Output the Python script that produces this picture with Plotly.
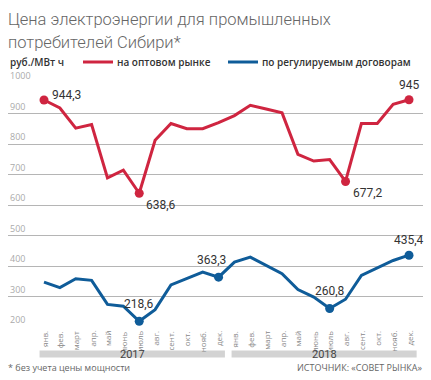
import plotly.graph_objects as go

months = ["янв.", "фев.", "март", "апр.", "май", "июнь", "июль", "авг.", "сент.", "окт.", "нояб.", "дек."]
month_labels = months + months
years = ["2017", "2018"]
wholesale = [944.3, 918, 852, 864, 689, 714, 638.6, 812, 867, 850, 850, 870,
             893, 927, 915, 902, 766, 744, 749, 677.2, 867, 867, 930, 945]
regulated = [347, 329, 358, 353, 274, 268, 218.6, 257, 338, 360, 380, 363.3,
             413, 429, 402, 375, 323, 298, 260.8, 291, 369, 393, 418, 435.4]
y_ticks = [200, 300, 400, 500, 600, 700, 800, 900, 1000]
highlight_red = [0, 6, 19, 23]
highlight_blue = [6, 11, 18, 23]
title_lines = ["Цена электроэнергии для промышленных", "потребителей Сибири*"]

RED = "#cf2540"
BLUE = "#0f5c99"
W, H = 431, 380
L, R, T, B = 8, 8, 83, 53
PH = H - T - B


def py(p):
    return (H - B - p) / PH


def pxp(p):
    return (p - L) / (W - L - R)


def fmt(v):
    s = f"{v:.1f}".replace(".", ",")
    return s[:-2] if s.endswith(",0") else s


x = list(range(len(month_labels)))
fig = go.Figure()
fig.add_trace(go.Scatter(x=x, y=wholesale, mode="lines", line=dict(color=RED, width=3),
                         hoverinfo="skip", showlegend=False))
fig.add_trace(go.Scatter(x=x, y=regulated, mode="lines", line=dict(color=BLUE, width=3),
                         hoverinfo="skip", showlegend=False))
fig.add_trace(go.Scatter(x=highlight_red, y=[wholesale[i] for i in highlight_red], mode="markers",
                         marker=dict(color=RED, size=9), hoverinfo="skip", showlegend=False))
fig.add_trace(go.Scatter(x=highlight_blue, y=[regulated[i] for i in highlight_blue], mode="markers",
                         marker=dict(color=BLUE, size=9), hoverinfo="skip", showlegend=False))

ann = []
for v in y_ticks:
    ann.append(dict(x=0, xref="paper", y=v, yref="y", text=str(v), showarrow=False,
                    xanchor="left", yanchor="bottom", yshift=-1,
                    font=dict(family="Open Sans", size=9, color="#aaaaaa")))

lab_font = dict(family="Roboto", size=12, color="#333333")
offsets_red = {0: (6, 5, "left", "middle"), 6: (5, -3, "left", "top"),
               19: (5, -3, "left", "top"), 23: (0, 6, "center", "bottom")}
for i, (dx, dy, xa, ya) in offsets_red.items():
    ann.append(dict(x=i, y=wholesale[i], text=fmt(wholesale[i]), showarrow=False,
                    xanchor=xa, yanchor=ya, xshift=dx, yshift=dy, font=lab_font,
                    bgcolor="white" if i == 23 else None))
offsets_blue = {6: (0, 8, "center", "bottom"), 11: (-7, 8, "center", "bottom"),
                18: (0, 8, "center", "bottom"), 23: (0, 6, "center", "bottom")}
for i, (dx, dy, xa, ya) in offsets_blue.items():
    ann.append(dict(x=i, y=regulated[i], text=fmt(regulated[i]), showarrow=False,
                    xanchor=xa, yanchor=ya, xshift=dx, yshift=dy, font=lab_font))

for i, m in enumerate(month_labels):
    ann.append(dict(x=i, xref="x", y=py(329), yref="paper", text=m, textangle=-90,
                    showarrow=False, xanchor="center", yanchor="top",
                    font=dict(family="Open Sans", size=8, color="#888888")))

shapes = []
year_spans = [(-0.28, 11.4), (11.82, 23.48)]
for (a, b), yr in zip(year_spans, years):
    shapes.append(dict(type="rect", xref="x", yref="paper", x0=a, x1=b, y0=py(357.5), y1=py(350.5),
                       fillcolor="#d3d3d3", line=dict(width=0), layer="below"))
    ann.append(dict(x=(a + b) / 2, xref="x", y=py(354.5), yref="paper", text=yr, showarrow=False,
                    xanchor="center", yanchor="middle",
                    font=dict(family="Roboto", size=11, color="#444444")))

for line, yc in zip(title_lines, [19.5, 42.5]):
    ann.append(dict(x=pxp(6), xref="paper", y=py(yc), yref="paper", text=line,
                    showarrow=False, xanchor="left", yanchor="middle", align="left",
                    font=dict(family="Roboto", size=16.5, color="#666666", weight=300)))
ann.append(dict(x=pxp(8), xref="paper", y=py(62), yref="paper", text="руб./МВт ч",
                showarrow=False, xanchor="left", yanchor="middle",
                font=dict(family="Open Sans", size=10, color="#333333", weight=600)))
for (x0, x1, col, txt) in [(83, 113, RED, "на оптовом рынке"), (228, 258, BLUE, "по регулируемым договорам")]:
    shapes.append(dict(type="line", xref="paper", yref="paper", x0=pxp(x0), x1=pxp(x1),
                       y0=py(62), y1=py(62), line=dict(color=col, width=3)))
    ann.append(dict(x=pxp(x1 + 2), xref="paper", y=py(62), yref="paper", text=txt,
                    showarrow=False, xanchor="left", yanchor="middle",
                    font=dict(family="Open Sans", size=10, color="#333333", weight=600)))

ann.append(dict(x=pxp(6), xref="paper", y=py(367), yref="paper", text="* без учета цены мощности",
                showarrow=False, xanchor="left", yanchor="middle",
                font=dict(family="Open Sans", size=9, color="#666666")))
ann.append(dict(x=pxp(424), xref="paper", y=py(367), yref="paper", text="ИСТОЧНИК: «СОВЕТ РЫНКА»",
                showarrow=False, xanchor="right", yanchor="middle",
                font=dict(family="Open Sans", size=9, color="#666666")))

x0_pix, dxp = 44.0, 15.87
xr = [(L - x0_pix) / dxp, (W - R - x0_pix) / dxp]
fig.update_layout(
    width=W, height=H, margin=dict(l=L, r=R, t=T, b=B),
    paper_bgcolor="white", plot_bgcolor="white",
    xaxis=dict(range=xr, showgrid=False, zeroline=False, showticklabels=False, ticks="",
               showline=False, fixedrange=True),
    yaxis=dict(range=[200, 1000], tickvals=y_ticks, showticklabels=False, showgrid=True,
               gridcolor="#b5b5b5", gridwidth=1.2, zeroline=False, showline=False, fixedrange=True),
    annotations=ann, shapes=shapes,
)
fig.write_html("out.html", config={"displayModeBar": False},
               post_script="document.body.style.margin='0';document.body.style.overflow='hidden';")
